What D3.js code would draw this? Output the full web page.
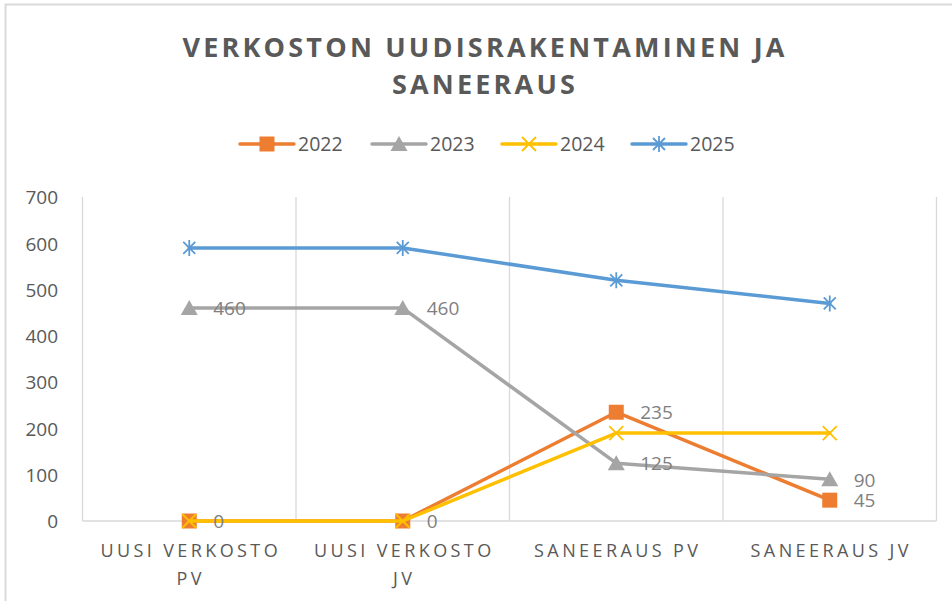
<!DOCTYPE html>
<html>
<head>
<meta charset="utf-8">
<script src="https://cdn.jsdelivr.net/npm/d3@7"></script>
<style>
  body { margin: 0; background: #fff; }
  svg { display: block; font-family: "Open Sans", sans-serif; }
</style>
</head>
<body>
<div id="chart"></div>
<script>
// data
const categories = ["UUSI VERKOSTO PV", "UUSI VERKOSTO JV", "SANEERAUS PV", "SANEERAUS JV"];
const seriesNames = ["2022", "2023", "2024", "2025"];
const values2022 = [0, 0, 235, 45];
const values2023 = [460, 460, 125, 90];
const values2024 = [0, 0, 190, 190];
const values2025 = [590, 590, 520, 470];
const yTicks = [0, 100, 200, 300, 400, 500, 600, 700];
const titleLines = ["VERKOSTON UUDISRAKENTAMINEN JA", "SANEERAUS"];

const series = [
    { name: seriesNames[0], values: values2022, color: "#ed7d31", marker: "square", labels: true },
    { name: seriesNames[1], values: values2023, color: "#a5a5a5", marker: "triangle", labels: true },
    { name: seriesNames[2], values: values2024, color: "#ffc000", marker: "x", labels: false },
    { name: seriesNames[3], values: values2025, color: "#5b9bd5", marker: "star", labels: false }
];

const W = 952, H = 601;
const plot = { left: 82.5, right: 936.5, top: 197, bottom: 521 };

const svg = d3.select("#chart").append("svg")
    .attr("width", W)
    .attr("height", H);

// chart border (only top/left visible in the crop)
svg.append("rect")
    .attr("x", 5.5).attr("y", 4.5)
    .attr("width", W + 20).attr("height", H + 20)
    .attr("fill", "none")
    .attr("stroke", "#d9d9d9")
    .attr("stroke-width", 2);

const x = d3.scaleBand()
    .domain(categories)
    .range([plot.left, plot.right]);

const y = d3.scaleLinear()
    .domain([0, 700])
    .range([plot.bottom, plot.top]);

const cx = d => x(d) + x.bandwidth() / 2;

// title
svg.append("text")
    .attr("text-anchor", "middle")
    .attr("fill", "#595959")
    .style("font-weight", "bold")
    .style("font-size", "27px")
    .style("letter-spacing", "3.2px")
    .selectAll("tspan")
    .data(titleLines)
    .enter().append("tspan")
    .attr("x", 485)
    .attr("y", (d, i) => 57 + i * 37)
    .text(d => d);

// vertical gridlines at category boundaries
const bounds = categories.map(c => x(c)).concat([plot.right]);
svg.append("g").selectAll("line")
    .data(bounds)
    .enter().append("line")
    .attr("x1", d => d).attr("x2", d => d)
    .attr("y1", plot.top).attr("y2", plot.bottom)
    .attr("stroke", "#d9d9d9")
    .attr("stroke-width", 1.3);

// x axis line
svg.append("line")
    .attr("x1", plot.left).attr("x2", plot.right)
    .attr("y1", plot.bottom).attr("y2", plot.bottom)
    .attr("stroke", "#d9d9d9")
    .attr("stroke-width", 1.5);

// y axis labels
const yAxis = d3.axisLeft(y).tickValues(yTicks).tickSize(0).tickPadding(0);
const yg = svg.append("g")
    .attr("transform", "translate(58,0)")
    .call(yAxis);
yg.select(".domain").remove();
yg.selectAll("text")
    .attr("fill", "#595959")
    .style("font-family", "'Open Sans', sans-serif")
    .style("font-size", "19px")
    .attr("dy", "0.36em");

// category labels, wrapped like Excel
const catG = svg.append("g");
categories.forEach(c => {
    const t = catG.append("text")
        .attr("text-anchor", "middle")
        .attr("fill", "#595959")
        .style("font-size", "18px")
        .style("letter-spacing", "3.4px");
    const words = c.split(" ");
    let lines = [];
    let line = [];
    const probe = t.append("tspan");
    words.forEach(w => {
        line.push(w);
        probe.text(line.join(" "));
        if (probe.node().getComputedTextLength() > x.bandwidth() - 20 && line.length > 1) {
            line.pop();
            lines.push(line.join(" "));
            line = [w];
        }
    });
    lines.push(line.join(" "));
    probe.remove();
    t.selectAll("tspan").data(lines).enter().append("tspan")
        .attr("x", cx(c) + 1.5)
        .attr("y", (d, i) => 557 + i * 28)
        .text(d => d);
});

// markers
function drawMarker(g, type, color, px, py) {
    if (type === "square") {
        g.append("rect")
            .attr("x", px - 7.5).attr("y", py - 7.5)
            .attr("width", 15).attr("height", 15)
            .attr("fill", color);
    } else if (type === "triangle") {
        g.append("path")
            .attr("d", `M${px},${py - 8}L${px + 8.5},${py + 7}L${px - 8.5},${py + 7}Z`)
            .attr("fill", color);
    } else if (type === "x") {
        g.append("path")
            .attr("d", `M${px - 7},${py - 7}L${px + 7},${py + 7}M${px - 7},${py + 7}L${px + 7},${py - 7}`)
            .attr("stroke", color).attr("stroke-width", 1.8).attr("fill", "none");
    } else if (type === "star") {
        g.append("path")
            .attr("d", `M${px - 6},${py - 6}L${px + 6},${py + 6}M${px - 6},${py + 6}L${px + 6},${py - 6}M${px},${py - 8}L${px},${py + 8}`)
            .attr("stroke", color).attr("stroke-width", 1.8).attr("fill", "none");
    }
}

const line = d3.line()
    .x((d, i) => cx(categories[i]))
    .y(d => y(d));

const seriesG = svg.append("g");
series.forEach(s => {
    const g = seriesG.append("g");
    g.append("path")
        .datum(s.values)
        .attr("d", line)
        .attr("fill", "none")
        .attr("stroke", s.color)
        .attr("stroke-width", 3.5)
        .attr("stroke-linejoin", "round")
        .attr("stroke-linecap", "round");
    s.values.forEach((v, i) => drawMarker(g, s.marker, s.color, cx(categories[i]), y(v)));
});

// data labels
const labelG = svg.append("g");
series.filter(s => s.labels).forEach(s => {
    labelG.selectAll(null)
        .data(s.values)
        .enter().append("text")
        .attr("x", (d, i) => cx(categories[i]) + 24)
        .attr("y", d => y(d))
        .attr("dy", "0.38em")
        .attr("fill", "#7f7f7f")
        .style("font-size", "19px")
        .text(d => d);
});

// legend
const legendX = [240, 372, 502, 632];
const legend = svg.append("g");
series.forEach((s, i) => {
    const lx = legendX[i], ly = 144;
    const g = legend.append("g");
    g.append("line")
        .attr("x1", lx).attr("x2", lx + 54)
        .attr("y1", ly).attr("y2", ly)
        .attr("stroke", s.color)
        .attr("stroke-width", 3.5)
        .attr("stroke-linecap", "round");
    drawMarker(g, s.marker, s.color, lx + 27, ly);
    g.append("text")
        .attr("x", lx + 58)
        .attr("y", ly)
        .attr("dy", "0.36em")
        .attr("fill", "#595959")
        .style("font-size", "19.5px")
        .text(s.name);
});
</script>
</body>
</html>
